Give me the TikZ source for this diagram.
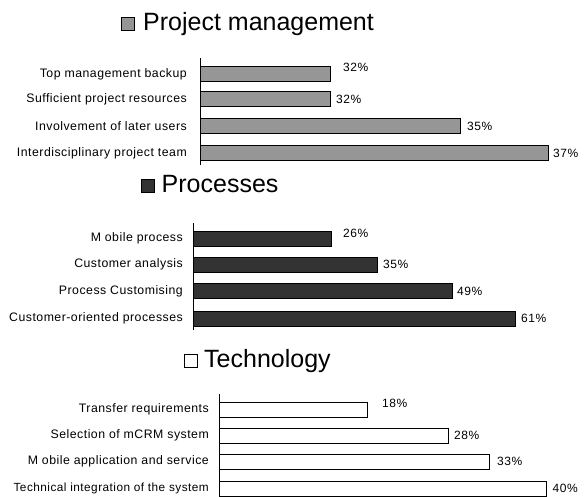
\documentclass[tikz,border=0pt]{standalone}
\usepackage{fontspec}
\setmainfont{Liberation Sans}
\newfontfamily\lblfont[LetterSpace=4]{Liberation Sans}
\definecolor{pmgray}{HTML}{969696}
\definecolor{prgray}{HTML}{333333}
\begin{document}
\begin{tikzpicture}[x=1pt,y=-1pt,
  lbl/.style={font=\lblfont\fontsize{12.3}{14}\selectfont, inner sep=0pt, anchor=east},
  pct/.style={font=\lblfont\fontsize{12}{14}\selectfont, inner sep=0pt, anchor=west},
  ttl/.style={font=\fontsize{25}{28}\selectfont, inner sep=0pt, anchor=base west},
  bar/.style={draw=black, line width=1pt},
  axisline/.style={draw=black, line width=0.8pt}]
\useasboundingbox (0,0) rectangle (586,497);

% ---- Project management ----
\draw[bar, fill=pmgray] (121,18) rectangle (134,31);
\node[ttl] (t1) at (143,31) {Project management};
\draw[axisline] (200,58) -- (200,165);
\draw[bar, fill=pmgray] (200,67) rectangle (330,82);
\draw[bar, fill=pmgray] (200,92) rectangle (330,107);
\draw[bar, fill=pmgray] (200,118.5) rectangle (460,133.5);
\draw[bar, fill=pmgray] (200,145.5) rectangle (548,160.5);
\node[lbl] (a1) at (187,74.5) {Top management backup};
\node[lbl] (a2) at (187,99.5) {Sufficient project resources};
\node[lbl] (a3) at (187,126) {Involvement of later users};
\node[lbl] (a4) at (187,153) {Interdisciplinary project team};
\node[pct] (p1) at (343,67) {32\%};
\node[pct] (p2) at (336,99.5) {32\%};
\node[pct] (p3) at (467,126) {35\%};
\node[pct] (p4) at (553,153) {37\%};

% ---- Processes ----
\draw[bar, fill=prgray] (141.5,180) rectangle (154.5,193);
\node[ttl] (t2) at (161.5,193) {Processes};
\draw[axisline] (193.5,223) -- (193.5,330);
\draw[bar, fill=prgray] (193.5,231) rectangle (331,246);
\draw[bar, fill=prgray] (193.5,257) rectangle (377.7,272);
\draw[bar, fill=prgray] (193.5,283.5) rectangle (452.7,298.5);
\draw[bar, fill=prgray] (193.5,311) rectangle (515,326);
\node[lbl] (b1) at (183,238.5) {M obile process};
\node[lbl] (b2) at (183,264.5) {Customer analysis};
\node[lbl] (b3) at (183,291) {Process Customising};
\node[lbl] (b4) at (183,318.5) {Customer-oriented processes};
\node[pct] (q1) at (343,233) {26\%};
\node[pct] (q2) at (383,264.5) {35\%};
\node[pct] (q3) at (457,291.5) {49\%};
\node[pct] (q4) at (521,318.5) {61\%};

% ---- Technology ----
\draw[bar, fill=white] (184.5,354) rectangle (197.5,367);
\node[ttl] (t3) at (204,367) {Technology};
\draw[axisline] (219,394) -- (219,497);
\draw[bar, fill=white] (219,402) rectangle (367,417);
\draw[bar, fill=white] (219,428) rectangle (448.6,443);
\draw[bar, fill=white] (219,454) rectangle (489.7,469);
\draw[bar, fill=white] (219,481) rectangle (546.5,496);
\node[lbl] (c1) at (209,409.5) {Transfer requirements};
\node[lbl] (c2) at (209,435.5) {Selection of mCRM system};
\node[lbl] (c3) at (209,461.5) {M obile application and service};
\node[lbl, font=\lblfont\fontsize{11.8}{14}\selectfont] (c4) at (209,488.5) {Technical integration of the system};
\node[pct] (r1) at (382,403) {18\%};
\node[pct] (r2) at (454,435.5) {28\%};
\node[pct] (r3) at (497,461.5) {33\%};
\node[pct] (r4) at (552.5,488.5) {40\%};
\end{tikzpicture}
\end{document}
